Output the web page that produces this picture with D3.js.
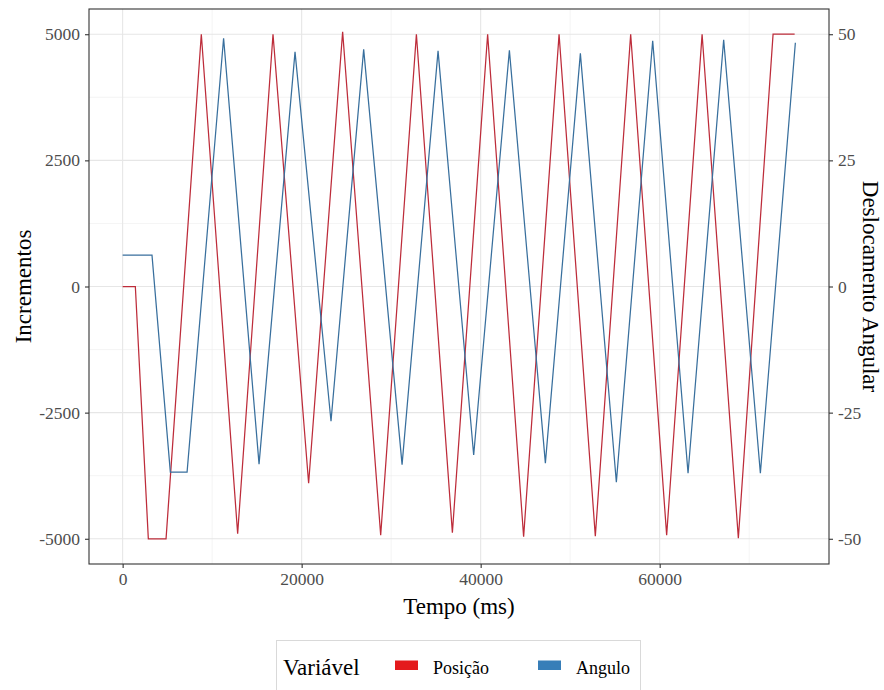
<!DOCTYPE html>
<html>
<head>
<meta charset="utf-8">
<script src="https://cdn.jsdelivr.net/npm/d3@7"></script>
<style>
  body { margin: 0; background: #fff; }
  svg { display: block; }
</style>
</head>
<body>
<div id="chart"></div>
<script>
// Posição (incrementos) - pontos de viragem
var posTempo = [0, 1420, 2870, 4850, 8790, 12850, 16800, 20780, 24580, 28830, 32820, 36840, 40780, 44800, 48760, 52810, 56760, 60780, 64740, 68790, 72670, 75080]
var posValor = [0, 0, -5000, -5000, 5000, -4900, 5000, -3900, 5050, -4930, 5000, -4880, 5000, -4960, 5000, -4950, 5000, -4930, 5000, -4990, 5000, 5000]

// Angulo (graus)
var angTempo = [0, 3280, 5330, 7200, 11280, 15240, 19260, 23280, 26930, 31220, 35240, 39220, 43210, 47230, 51140, 55160, 59220, 63170, 67150, 71250, 75160]
var angValor = [6.2, 6.2, -36.8, -36.8, 49.2, -35.2, 46.5, -26.7, 47, -35.3, 46.7, -33.4, 46.8, -35, 46.2, -38.8, 48.7, -37, 48.9, -37, 48.3]

var xTicks = [0, 20000, 40000, 60000]
var xMinor = [10000, 30000, 50000, 70000]
var yTicks = [-5000, -2500, 0, 2500, 5000]
var yMinor = [-3750, -1250, 1250, 3750]
var y2Ticks = [-50, -25, 0, 25, 50]

var legendLabels = ['Posição', 'Angulo']
var legendColors = ['#e41a1c', '#377eb8']
var lineColors = ['#bd2c3a', '#386f9d']

var W = 884, H = 690
var P = {left: 89, right: 829, top: 9, bottom: 564}
var FONT = '"Liberation Serif", "Times New Roman", serif'

var svg = d3.select('#chart').append('svg').attr('width', W).attr('height', H)
  .style('font-family', FONT)

// escalas com expansão de 5%
var xExt = [0, d3.max(posTempo.concat(angTempo))]
var xPad = (xExt[1] - xExt[0]) * 0.05
var x = d3.scaleLinear().domain([xExt[0] - xPad, xExt[1] + xPad]).range([P.left, P.right])
var y = d3.scaleLinear().domain([-5500, 5500]).range([P.bottom, P.top])
var y2 = d3.scaleLinear().domain([-55, 55]).range([P.bottom, P.top])

// grelha
var grid = svg.append('g')
grid.selectAll('.vmin').data(xMinor).enter().append('line')
  .attr('x1', function(d) { return x(d) }).attr('x2', function(d) { return x(d) })
  .attr('y1', P.top).attr('y2', P.bottom)
  .attr('stroke', '#ededed').attr('stroke-width', 0.6)
grid.selectAll('.hmin').data(yMinor).enter().append('line')
  .attr('y1', function(d) { return y(d) }).attr('y2', function(d) { return y(d) })
  .attr('x1', P.left).attr('x2', P.right)
  .attr('stroke', '#ededed').attr('stroke-width', 0.6)
grid.selectAll('.vmaj').data(xTicks).enter().append('line')
  .attr('x1', function(d) { return x(d) }).attr('x2', function(d) { return x(d) })
  .attr('y1', P.top).attr('y2', P.bottom)
  .attr('stroke', '#e6e6e6').attr('stroke-width', 1.1)
grid.selectAll('.hmaj').data(yTicks).enter().append('line')
  .attr('y1', function(d) { return y(d) }).attr('y2', function(d) { return y(d) })
  .attr('x1', P.left).attr('x2', P.right)
  .attr('stroke', '#e6e6e6').attr('stroke-width', 1.1)

// linhas
var pos = posTempo.map(function(t, i) { return [t, posValor[i]] })
var ang = angTempo.map(function(t, i) { return [t, angValor[i]] })

svg.append('path').datum(pos)
  .attr('fill', 'none').attr('stroke', lineColors[0]).attr('stroke-width', 1.25)
  .attr('d', d3.line().x(function(d) { return x(d[0]) }).y(function(d) { return y(d[1]) }))
svg.append('path').datum(ang)
  .attr('fill', 'none').attr('stroke', lineColors[1]).attr('stroke-width', 1.25)
  .attr('d', d3.line().x(function(d) { return x(d[0]) }).y(function(d) { return y2(d[1]) }))

// moldura
svg.append('rect').attr('x', P.left).attr('y', P.top)
  .attr('width', P.right - P.left).attr('height', P.bottom - P.top)
  .attr('fill', 'none').attr('stroke', '#333').attr('stroke-width', 1.1)

// eixos (hífen simples nos negativos, como no original)
var fmt = function(d) { return String(d) }
function styleAxis(g) {
  g.select('.domain').remove()
  g.selectAll('.tick line').attr('stroke', '#333').attr('stroke-width', 1.1)
  g.selectAll('.tick text').attr('fill', '#4d4d4d').style('font-size', '17.5px').style('font-family', FONT)
}
svg.append('g').attr('transform', 'translate(0,' + P.bottom + ')')
  .call(d3.axisBottom(x).tickValues(xTicks).tickSize(4).tickPadding(5).tickFormat(fmt))
  .call(styleAxis)
svg.append('g').attr('transform', 'translate(' + P.left + ',0)')
  .call(d3.axisLeft(y).tickValues(yTicks).tickSize(4).tickPadding(5).tickFormat(fmt))
  .call(styleAxis)
svg.append('g').attr('transform', 'translate(' + P.right + ',0)')
  .call(d3.axisRight(y2).tickValues(y2Ticks).tickSize(4).tickPadding(5).tickFormat(fmt))
  .call(styleAxis)

// títulos
var cy = (P.top + P.bottom) / 2
svg.append('text').attr('x', (P.left + P.right) / 2).attr('y', 614)
  .attr('text-anchor', 'middle').style('font-size', '23px').attr('fill', '#000')
  .text('Tempo (ms)')
svg.append('text').attr('transform', 'translate(31,' + cy + ') rotate(-90)')
  .attr('text-anchor', 'middle').style('font-size', '23px').attr('fill', '#000')
  .text('Incrementos')
svg.append('text').attr('transform', 'translate(863,' + cy + ') rotate(90)')
  .attr('text-anchor', 'middle').style('font-size', '23px').attr('fill', '#000')
  .text('Deslocamento Angular')

// legenda
var leg = svg.append('g')
leg.append('rect').attr('x', 276.5).attr('y', 640.5).attr('width', 364).attr('height', 70)
  .attr('fill', '#fff').attr('stroke', '#d9d9d9').attr('stroke-width', 1)
leg.append('text').attr('x', 283).attr('y', 675).style('font-size', '23px').text('Variável')
var legX = [395, 538]
legendLabels.forEach(function(lab, i) {
  leg.append('rect').attr('x', legX[i]).attr('y', 660.5).attr('width', 23).attr('height', 9.5)
    .attr('fill', legendColors[i])
  leg.append('text').attr('x', legX[i] + 38).attr('y', 674).style('font-size', '18px').text(lab)
})
</script>
</body>
</html>
